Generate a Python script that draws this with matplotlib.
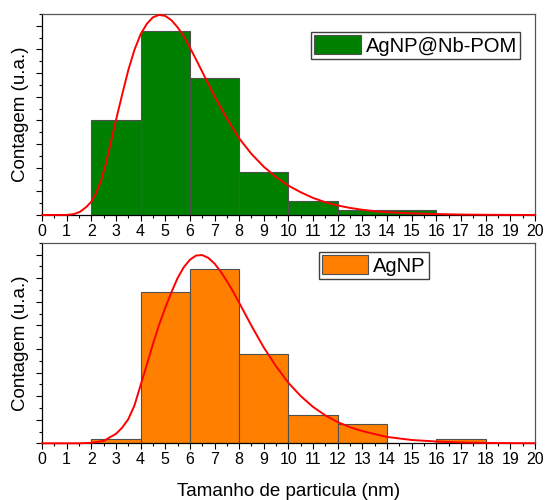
import numpy as np
import matplotlib
matplotlib.use("Agg")
import matplotlib.pyplot as plt
from matplotlib.ticker import MultipleLocator, NullFormatter

plt.rcParams['font.family'] = ['Liberation Sans', 'DejaVu Sans']

# histogram bins (left edges, width 2 nm) and counts
bins_nb = [2, 4, 6, 8, 10, 12, 14]
counts_nb = [20, 39, 29, 9, 3, 1, 1]

bins_ag = [2, 4, 6, 8, 10, 12, 16]
counts_ag = [1, 32, 37, 19, 6, 4, 1]

# log-normal fit curves
fit_x_nb = [0, 1.0, 1.3, 1.55, 1.8, 2.0, 2.2, 2.4, 2.6, 2.8, 3.0, 3.25, 3.5, 3.75,
            4.0, 4.25, 4.5, 4.75, 5.0, 5.25, 5.5, 5.75, 6.0, 6.25, 6.5, 6.75, 7.0,
            7.5, 8.0, 8.5, 9.0, 9.5, 10.0, 10.5, 11.0, 11.5, 12.0, 12.5, 13.0, 13.5,
            14.0, 15.0, 16.0, 17.0, 18.0, 19.0, 20.0]
fit_y_nb = [0, 0.02, 0.2, 0.7, 1.7, 2.8, 4.6, 7.3, 11.0, 15.5, 20.0, 25.4, 30.6, 34.9,
            38.2, 40.4, 41.8, 42.3, 42.1, 41.2, 39.7, 37.8, 35.4, 32.9, 30.3, 27.7, 25.1,
            20.4, 16.2, 12.9, 10.2, 8.0, 6.2, 4.8, 3.6, 2.7, 2.0, 1.5, 1.1, 0.8,
            0.6, 0.35, 0.2, 0.1, 0.05, 0.02, 0.01]

fit_x_ag = [0, 1.5, 2.0, 2.5, 3.0, 3.25, 3.5, 3.75, 4.0, 4.25, 4.5, 4.75, 5.0, 5.25,
            5.5, 5.75, 6.0, 6.25, 6.5, 6.75, 7.0, 7.25, 7.5, 7.75, 8.0, 8.5, 9.0,
            9.5, 10.0, 10.5, 11.0, 11.5, 12.0, 12.5, 13.0, 13.5, 14.0, 15.0, 16.0,
            17.0, 18.0, 19.0, 20.0]
fit_y_ag = [0, 0, 0.1, 0.5, 2.0, 3.3, 5.1, 8.0, 12.3, 16.6, 21.0, 25.1, 28.7, 32.0,
            35.0, 37.3, 38.9, 39.8, 39.9, 39.3, 38.1, 36.4, 34.4, 32.2, 29.8, 24.9, 20.3,
            16.3, 12.8, 10.0, 7.7, 5.9, 4.5, 3.4, 2.6, 1.95, 1.35, 0.7, 0.38,
            0.18, 0.08, 0.04, 0.02]

xticks = list(range(0, 21))

fig = plt.figure(figsize=(5.48, 5.0), dpi=100)
ax1 = fig.add_axes([0.0766, 0.570, 0.8996, 0.402])
ax2 = fig.add_axes([0.0766, 0.1134, 0.8996, 0.401])

panels = [
    (ax1, bins_nb, counts_nb, fit_x_nb, fit_y_nb, '#008000', 'AgNP@Nb-POM', (0.9696, 0.91)),
    (ax2, bins_ag, counts_ag, fit_x_ag, fit_y_ag, '#FF8000', 'AgNP', (0.785, 0.954)),
]

for ax, bins, counts, fx, fy, color, label, anchor in panels:
    ax.bar(bins, counts, width=2, align='edge', color=color,
           edgecolor='#505050', linewidth=0.8, label=label, zorder=2)
    ax.plot(fx, fy, color='#FF0000', linewidth=1.4, zorder=3, clip_on=False)
    ax.set_xlim(0, 20)
    ax.set_ylim(0, 42.5)
    ax.set_xticks(xticks)
    ax.xaxis.set_minor_locator(MultipleLocator(0.5))
    ax.yaxis.set_major_locator(MultipleLocator(5))
    ax.yaxis.set_minor_locator(MultipleLocator(2.5))
    ax.yaxis.set_major_formatter(NullFormatter())
    ax.tick_params(axis='both', which='major', direction='out', length=4.5,
                   width=0.8, labelsize=11.5, pad=2)
    ax.tick_params(axis='both', which='minor', direction='out', length=2.5, width=0.8)
    ax.tick_params(top=False, right=False)
    for s in ax.spines.values():
        s.set_linewidth(0.9)
    ax.spines['top'].set_color('#555555')
    ax.spines['right'].set_color('#555555')
    ax.set_ylabel('Contagem (u.a.)', fontsize=13.5, labelpad=3)
    leg = ax.legend(loc='upper right', bbox_to_anchor=anchor, fontsize=14.5,
                    fancybox=False, framealpha=1, edgecolor='#404040',
                    handlelength=2.3, handleheight=1.1, handletextpad=0.25,
                    borderpad=0.15, borderaxespad=0)
    leg.get_frame().set_linewidth(1.0)

ax2.set_xlabel('Tamanho de particula (nm)', fontsize=13.5, labelpad=11)

fig.savefig('out.png', dpi=100)
